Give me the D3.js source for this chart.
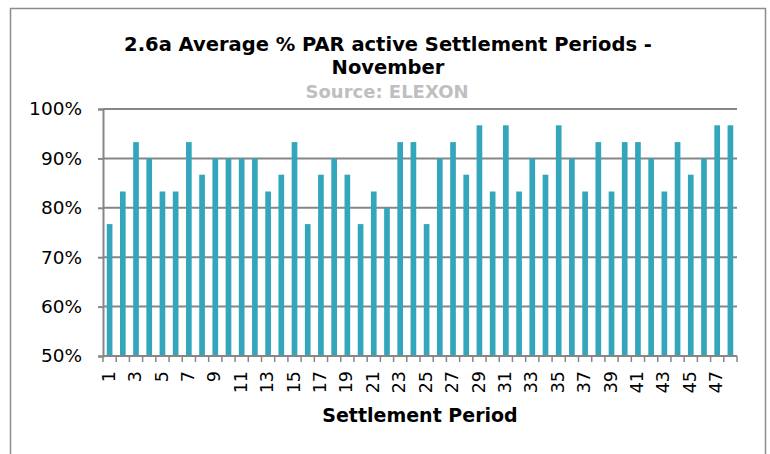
<!DOCTYPE html>
<html>
<head>
<meta charset="utf-8">
<script src="https://cdn.jsdelivr.net/npm/d3@7"></script>
<style>
body { margin: 0; background: #fff; }
text { font-family: Tahoma, "DejaVu Sans", sans-serif; }
</style>
</head>
<body>
<div id="chart"></div>
<script>
// settlement periods 1..48
const periods = d3.range(1, 49);
// average % of days PAR active per period (steps of 1/30)
const values = [
	76.7, 83.3, 93.3, 90, 83.3, 83.3, 93.3, 86.7, 90, 90,
	90, 90, 83.3, 86.7, 93.3, 76.7, 86.7, 90, 86.7, 76.7,
	83.3, 80, 93.3, 93.3, 76.7, 90, 93.3, 86.7, 96.7, 83.3,
	96.7, 83.3, 90, 86.7, 96.7, 90, 83.3, 93.3, 83.3, 93.3,
	93.3, 90, 83.3, 93.3, 86.7, 90, 96.7, 96.7
];
const yTicks = [50, 60, 70, 80, 90, 100];

const W = 770, H = 454;
const PL = 103, PR = 737, PT = 109, PB = 356;

const svg = d3.select("#chart").append("svg")
	.attr("width", W)
	.attr("height", H);

// outer chart border
svg.append("rect")
	.attr("x", 10.5).attr("y", 8.5)
	.attr("width", 755).attr("height", 460)
	.attr("fill", "none")
	.attr("stroke", "#8c8c8c")
	.attr("stroke-width", 1.5);

const x = d3.scaleBand()
	.domain(periods)
	.range([PL, PR])
	.paddingInner(0.57)
	.paddingOuter(0.285);

const y = d3.scaleLinear()
	.domain([50, 100])
	.range([PB, PT]);

// gridlines
svg.append("g")
	.selectAll("line")
	.data(yTicks)
	.join("line")
		.attr("x1", PL).attr("x2", PR)
		.attr("y1", d => y(d)).attr("y2", d => y(d))
		.attr("stroke", "#868686")
		.attr("stroke-width", 2);

// bars
svg.append("g")
	.selectAll("rect")
	.data(values)
	.join("rect")
		.attr("x", (d, i) => x(periods[i]))
		.attr("y", d => y(d))
		.attr("width", x.bandwidth())
		.attr("height", d => y(50) - y(d))
		.attr("fill", "#34a6bc");

// y axis
const yAxis = svg.append("g")
	.attr("transform", `translate(${PL},0)`)
	.call(d3.axisLeft(y).tickValues(yTicks).tickSize(5).tickFormat(d => d + "%"));
yAxis.select(".domain").attr("stroke", "#868686").attr("stroke-width", 2);
yAxis.selectAll(".tick line").attr("stroke", "#868686").attr("stroke-width", 2);
yAxis.selectAll(".tick text")
	.attr("x", -21)
	.attr("font-size", 18.5)
	.attr("fill", "#000")
	.style("font-family", 'Tahoma, "DejaVu Sans", sans-serif');

// x axis: ticks between categories, label every other period
const step = x.step();
const xAxis = svg.append("g").attr("transform", `translate(0,${PB})`);
xAxis.append("line")
	.attr("x1", PL).attr("x2", PR)
	.attr("stroke", "#868686").attr("stroke-width", 2);
xAxis.selectAll("line.tk")
	.data(d3.range(0, periods.length + 1))
	.join("line")
		.attr("class", "tk")
		.attr("x1", i => PL + i * step).attr("x2", i => PL + i * step)
		.attr("y1", 0).attr("y2", 6)
		.attr("stroke", "#868686").attr("stroke-width", 1.5);
xAxis.selectAll("text")
	.data(periods.filter(p => p % 2 === 1))
	.join("text")
		.attr("transform", p => `translate(${x(p) + x.bandwidth() / 2 - 1},${15}) rotate(-90)`)
		.attr("text-anchor", "end")
		.attr("dy", "0.35em")
		.attr("font-size", 17.5)
		.text(p => p);

// titles
svg.append("text")
	.attr("x", 388).attr("y", 51)
	.attr("text-anchor", "middle")
	.attr("font-size", 19.5).attr("font-weight", "bold")
	.text("2.6a Average % PAR active Settlement Periods  -");
svg.append("text")
	.attr("x", 388).attr("y", 74)
	.attr("text-anchor", "middle")
	.attr("font-size", 19.5).attr("font-weight", "bold")
	.text("November");
svg.append("text")
	.attr("x", 387).attr("y", 98)
	.attr("text-anchor", "middle")
	.attr("font-size", 18).attr("font-weight", "bold")
	.attr("fill", "#bfbfbf")
	.text("Source: ELEXON");
svg.append("text")
	.attr("x", 420).attr("y", 422)
	.attr("text-anchor", "middle")
	.attr("font-size", 19).attr("font-weight", "bold")
	.text("Settlement Period");
</script>
</body>
</html>
